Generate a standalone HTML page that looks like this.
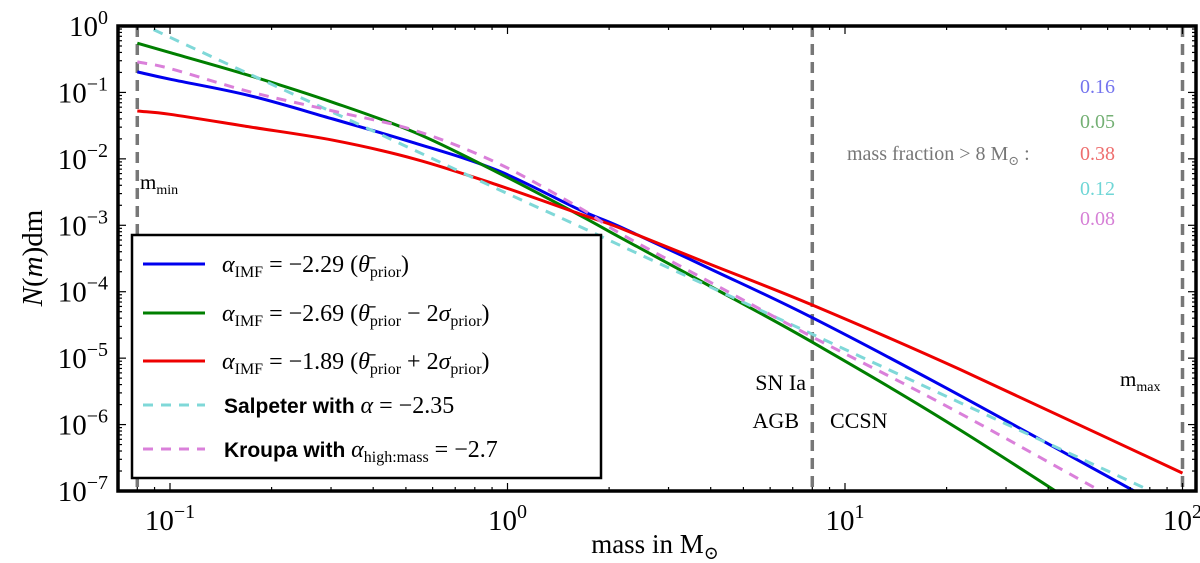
<!DOCTYPE html>
<html><head><meta charset="utf-8"><style>
html,body{margin:0;padding:0;background:#fff;}
svg{display:block;}
.serif{font-family:"Liberation Serif","DejaVu Serif",serif;}
</style></head><body>
<svg id="chart" width="1200" height="563" viewBox="0 0 1200 563" xmlns="http://www.w3.org/2000/svg">
<defs><clipPath id="plotclip"><rect x="118" y="26" width="1078" height="465"/></clipPath></defs>
<g id="marks" clip-path="url(#plotclip)"></g>
<g id="overlay"></g>
</svg>
<script>
const masses = [0.08, 0.1, 0.173, 0.304, 0.53, 0.93, 1.64, 2.15, 4, 8, 21.9, 100];
const blueVals = [0.204, 0.158, 0.0891, 0.0398, 0.0174, 6.76e-3, 1.70e-3, 9.55e-4, 2.19e-4, 4.07e-5, 2.75e-6, 3.98e-8];
const greenVals = [0.550, 0.398, 0.178, 0.0708, 0.0251, 6.31e-3, 1.41e-3, 6.61e-4, 1.20e-4, 1.74e-5, 8.32e-7, 5.75e-9];
const redVals = [0.0525, 0.0468, 0.0302, 0.0191, 0.0100, 4.07e-3, 1.48e-3, 9.12e-4, 2.57e-4, 6.31e-5, 6.76e-6, 1.86e-7];
const salpeterVals = [1.15, 0.676, 0.186, 0.0501, 0.0135, 3.55e-3, 9.55e-4, 5.01e-4, 1.17e-4, 2.29e-5, 2.14e-6, 6.03e-8];
const kroupaVals = [0.288, 0.229, 0.102, 0.0525, 0.0269, 8.71e-3, 1.82e-3, 7.59e-4, 1.38e-4, 2.09e-5, 1.48e-6, 2.04e-8];
const yTickExps = [0, -1, -2, -3, -4, -5, -6, -7];
const xTickExps = [-1, 0, 1, 2];
const boundaryMasses = [0.08, 8, 100];
const fractionLabels = ["0.16", "0.05", "0.38", "0.12", "0.08"];

const NS = "http://www.w3.org/2000/svg";
const L = 118, R = 1196, T = 26, B = 491;
function xs(m){ return 170 + (Math.log10(m) + 1) * 337.5; }
function ys(v){ return T + (-Math.log10(v)) * 66.43; }
function mk(tag, attrs, parent){
  const e = document.createElementNS(NS, tag);
  for (const k in attrs) e.setAttribute(k, attrs[k]);
  parent.appendChild(e); return e;
}
const marks = document.getElementById('marks');
const over = document.getElementById('overlay');

boundaryMasses.forEach((m) => {
  const ln = mk('line', {x1: xs(m), x2: xs(m), y1: T, y2: B, stroke: '#777', 'stroke-width': 3.5, 'stroke-dasharray': '11,7'}, marks);
  
  
});

function smoothPath(pts){
  let d = 'M' + pts[0][0].toFixed(1) + ' ' + pts[0][1].toFixed(1);
  for (let i = 0; i < pts.length - 1; i++) {
    const p1 = pts[i], p2 = pts[i + 1];
    const p0 = i > 0 ? pts[i - 1] : [2 * p1[0] - p2[0], 2 * p1[1] - p2[1]];
    const p3 = i + 2 < pts.length ? pts[i + 2] : [2 * p2[0] - p1[0], 2 * p2[1] - p1[1]];
    const c1x = p1[0] + (p2[0] - p0[0]) / 6, c1y = p1[1] + (p2[1] - p0[1]) / 6;
    const c2x = p2[0] - (p3[0] - p1[0]) / 6, c2y = p2[1] - (p3[1] - p1[1]) / 6;
    d += ' C' + c1x.toFixed(1) + ' ' + c1y.toFixed(1) + ' ' + c2x.toFixed(1) + ' ' + c2y.toFixed(1) + ' ' + p2[0].toFixed(1) + ' ' + p2[1].toFixed(1);
  }
  return d;
}

const series = [
  {name: 'blue-curve', vals: blueVals, color: '#0000ee', dash: null},
  {name: 'green-curve', vals: greenVals, color: '#007f00', dash: null},
  {name: 'red-curve', vals: redVals, color: '#ee0000', dash: null},
  {name: 'salpeter-curve', vals: salpeterVals, color: '#7fd8d8', dash: '10,8'},
  {name: 'kroupa-curve', vals: kroupaVals, color: '#da80da', dash: '10,8'}
];
series.forEach(s => {
  const pts = masses.map((m, i) => [xs(m), ys(s.vals[i])]);
  const p = mk('path', {d: smoothPath(pts), fill: 'none', stroke: s.color, 'stroke-width': 3, 'stroke-linejoin': 'round'}, marks);
  if (s.dash) p.setAttribute('stroke-dasharray', s.dash);
  
  
});

const ticks = mk('g', {stroke: '#000', 'stroke-width': 1.2}, over);


for (let e = -7; e < 0; e++) {
  for (let k = 1; k < 10; k++) {
    const y = ys(k * Math.pow(10, e));
    if (y < T || y > B) continue;
    const len = k === 1 ? 8 : 4;
    mk('line', {x1: L, x2: L + len, y1: y, y2: y}, ticks);
    mk('line', {x1: R - len, x2: R, y1: y, y2: y}, ticks);
  }
}
for (let e = -2; e < 3; e++) {
  for (let k = 1; k < 10; k++) {
    const x = xs(k * Math.pow(10, e));
    if (x < L || x > R) continue;
    const len = k === 1 ? 8 : 4;
    mk('line', {x1: x, x2: x, y1: B, y2: B - len}, ticks);
    mk('line', {x1: x, x2: x, y1: T, y2: T + len}, ticks);
  }
}
const fr = mk('rect', {x: L, y: T, width: R - L, height: B - T, fill: 'none', stroke: '#000', 'stroke-width': 3.5}, over);



yTickExps.forEach(e => {
  const t = mk('text', {x: 108, y: ys(Math.pow(10, e)) + 10, 'text-anchor': 'end', 'font-size': 29, class: 'serif'}, over);
  
  
  t.innerHTML = '10<tspan dy="-12" font-size="20">' + (e === 0 ? '0' : '\u2212' + (-e)) + '</tspan>';
});
xTickExps.forEach(e => {
  const t = mk('text', {x: xs(Math.pow(10, e)), y: 530, 'text-anchor': 'middle', 'font-size': 29, class: 'serif'}, over);
  
  
  t.innerHTML = '10<tspan dy="-12" font-size="20">' + (e < 0 ? '\u2212' + (-e) : e) + '</tspan>';
});

const fracColors = ['#7474ee', '#74b074', '#ee6e6e', '#6fd6d6', '#d680d6'];
const fracY = [93, 128, 160, 195, 225];
fractionLabels.forEach((s, i) => {
  const t = mk('text', {x: 1080, y: fracY[i], 'font-size': 20, fill: fracColors[i], class: 'serif'}, over);
  
  
  t.textContent = s;
});
</script>
<svg style="position:absolute;left:0;top:0" width="1200" height="563" xmlns="http://www.w3.org/2000/svg">
<g font-family="Liberation Serif, DejaVu Serif, serif">
<text x="847" y="160" font-size="20" fill="#777">mass fraction &gt; 8 M<tspan dy="5" font-size="13">⊙</tspan><tspan dy="-5"> :</tspan></text>
<text x="140" y="189" font-size="21">m<tspan dy="5" font-size="14">min</tspan></text>
<text x="1120" y="386" font-size="21">m<tspan dy="5" font-size="14">max</tspan></text>
<text x="806" y="390" font-size="22" text-anchor="end">SN Ia</text>
<text x="799" y="428" font-size="22" text-anchor="end">AGB</text>
<text x="830" y="428" font-size="22">CCSN</text>
<text x="655" y="553" font-size="27" text-anchor="middle">mass in M<tspan dy="6" font-size="18">⊙</tspan></text>
<text transform="translate(42,258) rotate(-90)" font-size="29" text-anchor="middle"><tspan font-style="italic">N</tspan>(<tspan font-style="italic">m</tspan>)dm</text>
</g>
<g>
<rect x="132" y="235" width="469" height="243" fill="#fff" stroke="#000" stroke-width="2.5"/>
<line x1="143" x2="205" y1="264" y2="264" stroke="#0000ee" stroke-width="3"/>
<line x1="143" x2="205" y1="313" y2="313" stroke="#007f00" stroke-width="3"/>
<line x1="143" x2="205" y1="361" y2="361" stroke="#ee0000" stroke-width="3"/>
<line x1="143" x2="205" y1="405" y2="405" stroke="#7fd8d8" stroke-width="3" stroke-dasharray="10,8"/>
<line x1="143" x2="205" y1="449" y2="449" stroke="#da80da" stroke-width="3" stroke-dasharray="10,8"/>
<g font-family="Liberation Serif, DejaVu Serif, serif" font-size="24">
<text x="222" y="272"><tspan font-style="italic">α</tspan><tspan dy="5" font-size="16">IMF</tspan><tspan dy="-5"> = −2.29 (</tspan><tspan font-style="italic">θ̄</tspan><tspan dy="5" font-size="16">prior</tspan><tspan dy="-5">)</tspan></text>
<text x="222" y="321"><tspan font-style="italic">α</tspan><tspan dy="5" font-size="16">IMF</tspan><tspan dy="-5"> = −2.69 (</tspan><tspan font-style="italic">θ̄</tspan><tspan dy="5" font-size="16">prior</tspan><tspan dy="-5"> − 2</tspan><tspan font-style="italic">σ</tspan><tspan dy="5" font-size="16">prior</tspan><tspan dy="-5">)</tspan></text>
<text x="222" y="369"><tspan font-style="italic">α</tspan><tspan dy="5" font-size="16">IMF</tspan><tspan dy="-5"> = −1.89 (</tspan><tspan font-style="italic">θ̄</tspan><tspan dy="5" font-size="16">prior</tspan><tspan dy="-5"> + 2</tspan><tspan font-style="italic">σ</tspan><tspan dy="5" font-size="16">prior</tspan><tspan dy="-5">)</tspan></text>
</g>
<text x="224" y="413" font-family="Liberation Sans, DejaVu Sans, sans-serif" font-weight="bold" font-size="21">Salpeter with <tspan font-family="Liberation Serif, serif" font-weight="normal" font-style="italic" font-size="24">α</tspan><tspan font-family="Liberation Serif, serif" font-weight="normal" font-size="24"> = −2.35</tspan></text>
<text x="224" y="457" font-family="Liberation Sans, DejaVu Sans, sans-serif" font-weight="bold" font-size="21">Kroupa with <tspan font-family="Liberation Serif, serif" font-weight="normal" font-style="italic" font-size="24">α</tspan><tspan font-family="Liberation Serif, serif" font-weight="normal" font-size="16" dy="5">high:mass</tspan><tspan font-family="Liberation Serif, serif" font-weight="normal" font-size="24" dy="-5"> = −2.7</tspan></text>
</g>
</svg>
</body></html>
